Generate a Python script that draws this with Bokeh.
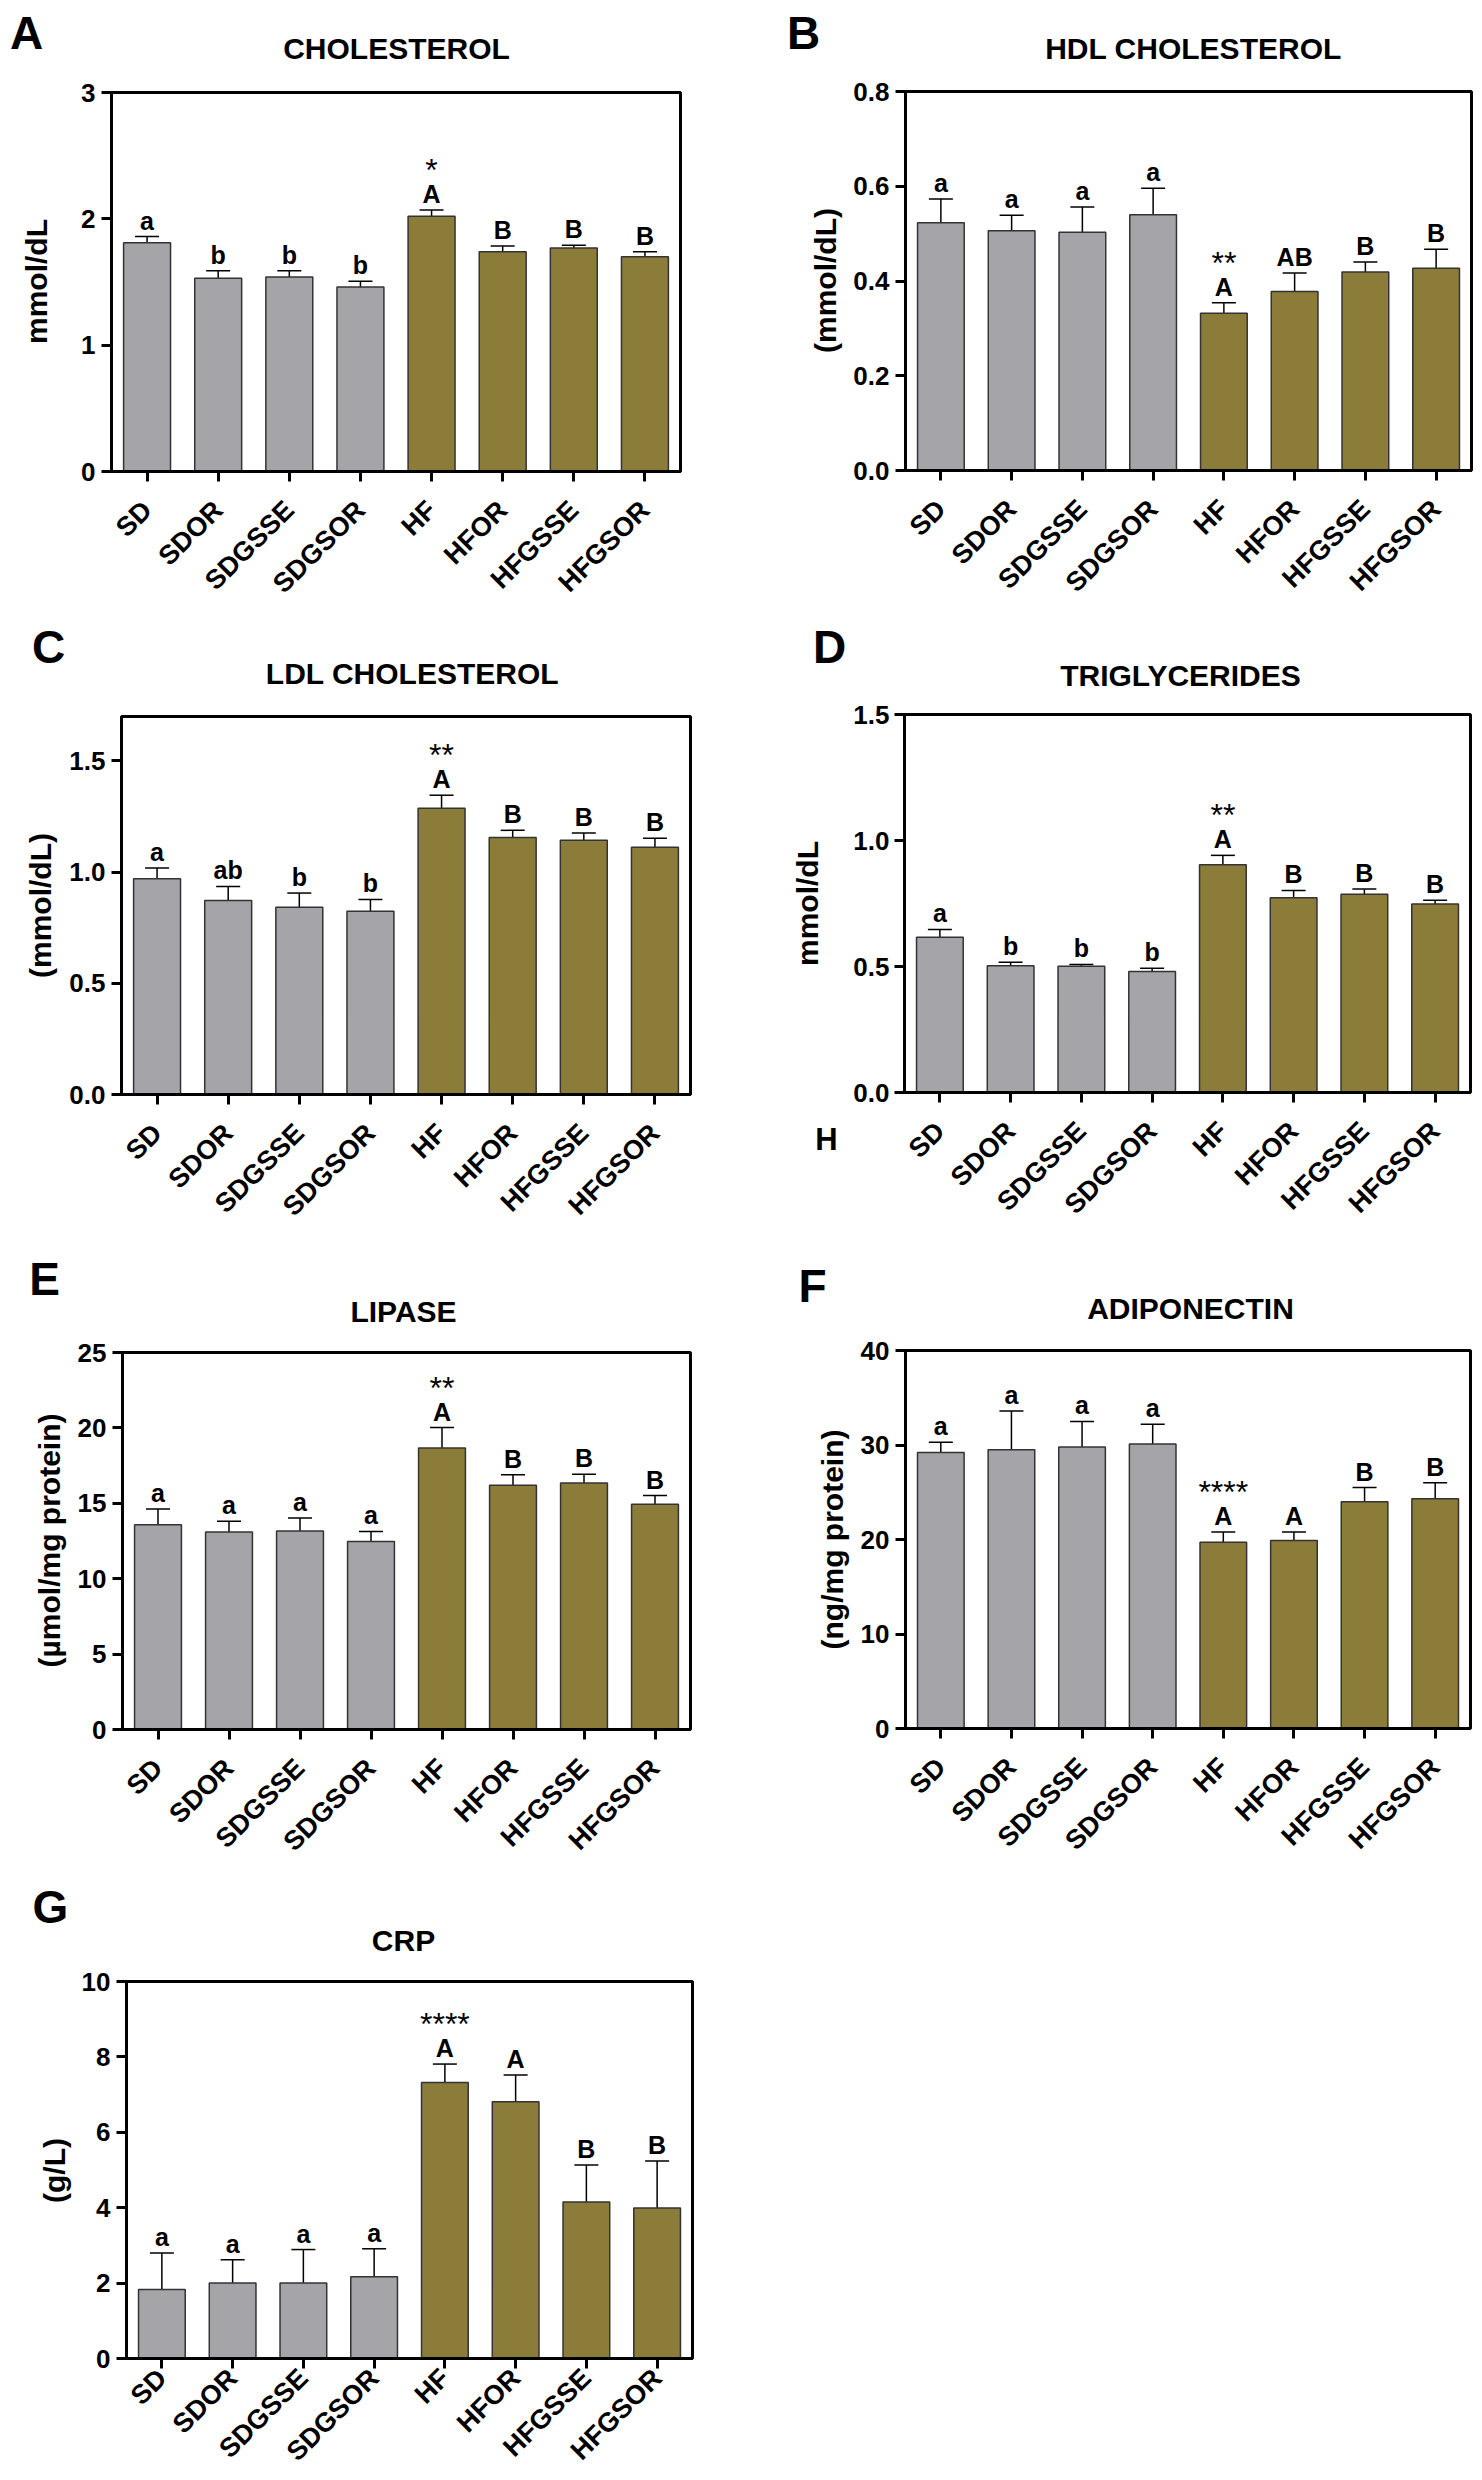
from math import pi
from bokeh.plotting import figure
from bokeh.models import (ColumnDataSource, FixedTicker, PrintfTickFormatter,
                          Whisker, TeeHead, Range1d)
from bokeh.layouts import column, row
from bokeh.embed import file_html
from bokeh.resources import INLINE
from bokeh.core.properties import value

# ---------------- data ----------------
groups = ["SD", "SDOR", "SDGSSE", "SDGSOR", "HF", "HFOR", "HFGSSE", "HFGSOR"]
diet = ["SD", "SD", "SD", "SD", "HF", "HF", "HF", "HF"]

chol_mean = [1.81, 1.53, 1.54, 1.46, 2.02, 1.74, 1.77, 1.70]
chol_sem = [0.05, 0.06, 0.05, 0.045, 0.05, 0.045, 0.02, 0.04]
chol_letters = ["a", "b", "b", "b", "A", "B", "B", "B"]
chol_stars = "*"

hdl_mean = [0.523, 0.506, 0.503, 0.540, 0.332, 0.378, 0.419, 0.427]
hdl_sem = [0.050, 0.033, 0.053, 0.056, 0.022, 0.039, 0.021, 0.040]
hdl_letters = ["a", "a", "a", "a", "A", "AB", "B", "B"]
hdl_stars = "**"

ldl_mean = [0.970, 0.873, 0.842, 0.824, 1.287, 1.156, 1.143, 1.112]
ldl_sem = [0.049, 0.063, 0.064, 0.053, 0.059, 0.032, 0.033, 0.041]
ldl_letters = ["a", "ab", "b", "b", "A", "B", "B", "B"]
ldl_stars = "**"

tg_mean = [0.616, 0.503, 0.501, 0.480, 0.904, 0.773, 0.787, 0.748]
tg_sem = [0.031, 0.014, 0.007, 0.013, 0.037, 0.029, 0.021, 0.015]
tg_letters = ["a", "b", "b", "b", "A", "B", "B", "B"]
tg_stars = "**"

lip_mean = [13.57, 13.10, 13.16, 12.47, 18.66, 16.19, 16.35, 14.94]
lip_sem = [1.05, 0.71, 0.86, 0.66, 1.36, 0.71, 0.58, 0.57]
lip_letters = ["a", "a", "a", "a", "A", "B", "B", "B"]
lip_stars = "**"

adi_mean = [29.2, 29.5, 29.8, 30.1, 19.7, 19.9, 24.0, 24.3]
adi_sem = [1.1, 4.1, 2.7, 2.1, 1.1, 0.9, 1.5, 1.7]
adi_letters = ["a", "a", "a", "a", "A", "A", "B", "B"]
adi_stars = "****"

crp_mean = [1.83, 2.00, 2.00, 2.17, 7.32, 6.81, 4.15, 3.99]
crp_sem = [0.97, 0.62, 0.89, 0.74, 0.49, 0.71, 0.98, 1.25]
crp_letters = ["a", "a", "a", "a", "A", "A", "B", "B"]
crp_stars = "****"

# ---------------- style ----------------
FONT = "Liberation Sans"
COLORS = {"SD": "#a4a4a9", "HF": "#8c7c3a"}


def text_strip(w, h):
    """A blank figure whose frame fills it, used to hold free text."""
    s = figure(width=w, height=h, x_range=Range1d(0, w), y_range=Range1d(h, 0),
               min_border=0, toolbar_location=None, output_backend="svg",
               x_axis_location=None, y_axis_location=None)
    s.outline_line_color = None
    s.background_fill_color = "white"
    s.border_fill_color = "white"
    for g in s.grid:
        g.visible = False
    return s


def bar_plot(means, sems, letters, stars, ymax, ticks, fmt, w, h, bl, br, bt, bb,
             xlab_standoff, ytick_standoff=6):
    p = figure(x_range=groups, y_range=Range1d(0, ymax), width=w, height=h,
               output_backend="svg", toolbar_location=None,
               min_border_left=bl, min_border_right=br,
               min_border_top=bt, min_border_bottom=bb)
    p.background_fill_color = "white"
    p.border_fill_color = "white"
    p.xgrid.visible = False
    p.ygrid.visible = False
    p.outline_line_color = "black"
    p.outline_line_width = 3
    p.outline_line_alpha = 1

    upper = [m + s for m, s in zip(means, sems)]
    src = ColumnDataSource(dict(group=groups, mean=means, upper=upper,
                                letter=letters,
                                color=[COLORS[d] for d in diet]))
    p.vbar(x="group", top="mean", width=0.66, source=src, fill_color="color",
           line_color="#333333", line_width=1.5)
    p.add_layout(Whisker(base="group", upper="upper", lower="mean", source=src,
                         line_color="black", line_width=1.5,
                         upper_head=TeeHead(size=24, line_color="black",
                                            line_width=1.5),
                         lower_head=None))
    p.text(x="group", y="upper", text="letter", source=src, text_align="center",
           text_baseline="bottom", y_offset=-2,
           text_font=value(FONT), text_font_style="bold",
           text_font_size="25px", text_color="black")
    hf = groups.index("HF")
    star_src = ColumnDataSource(dict(x=["HF"], y=[upper[hf]], t=[stars]))
    p.text(x="x", y="y", text="t", source=star_src, text_align="center",
           text_baseline="bottom", y_offset=-22,
           text_font=value(FONT), text_font_size="32px", text_color="black")

    for ax in (p.xaxis[0], p.yaxis[0]):
        ax.axis_line_width = 3
        ax.axis_line_color = "black"
        ax.major_tick_line_width = 3
        ax.major_tick_line_color = "black"
        ax.major_tick_in = 0
        ax.major_tick_out = 10
        ax.minor_tick_line_color = None
        ax.major_label_text_font = FONT
        ax.major_label_text_font_style = "bold"
        ax.major_label_text_color = "black"
    p.xaxis.major_label_text_font_size = "27px"
    p.xaxis.major_label_orientation = pi / 4
    p.xaxis.major_label_standoff = xlab_standoff
    p.yaxis.major_label_text_font_size = "26px"
    p.yaxis.major_label_standoff = ytick_standoff
    p.yaxis.ticker = FixedTicker(ticks=ticks)
    p.yaxis.formatter = PrintfTickFormatter(format=fmt)
    return p


def block(letter, title, ylabel, plot_args, W, H, ts, ls, bl, br, bt, bb,
          letter_xy, title_xy, ylabel_xy, xlab_standoff=24, ytick_standoff=6,
          extra=None):
    # top strip: panel letter + title
    top = text_strip(W, ts)
    top.text(x=[letter_xy[0]], y=[letter_xy[1]], text=[letter], text_align="center",
             text_baseline="middle", text_font=value(FONT),
             text_font_style="bold", text_font_size="46px", text_color="black")
    top.text(x=[title_xy[0]], y=[title_xy[1]], text=[title], text_align="center",
             text_baseline="middle", text_font=value(FONT),
             text_font_style="bold", text_font_size="30px", text_color="black")
    # left strip: y-axis title (+ stray text)
    left = text_strip(ls, H - ts)
    left.text(x=[ylabel_xy[0]], y=[ylabel_xy[1]], text=[ylabel], angle=pi / 2,
              text_align="center", text_baseline="middle", text_font=value(FONT),
              text_font_style="bold", text_font_size="30px", text_color="black")
    if extra is not None:
        left.text(x=[extra[1]], y=[extra[2]], text=[extra[0]], text_align="center",
                  text_baseline="middle", text_font=value(FONT),
                  text_font_style="bold", text_font_size="31px", text_color="black")
    p = bar_plot(*plot_args, W - ls, H - ts, bl, br, bt, bb, xlab_standoff,
                 ytick_standoff)
    # the strip is wrapped in a column so that its frame is not aligned with the plot's
    return column(top, row(column(left), p))


int_fmt = "%d"
dec_fmt = "%.1f"

# row 1: y 0..612
bA = block("A", "CHOLESTEROL", "mmol/dL",
           (chol_mean, chol_sem, chol_letters, chol_stars, 3, [0, 1, 2, 3], int_fmt),
           741, 612, 70, 56, 55, 61, 22, 141, (26, 32), (396, 48), (36, 211))
bB = block("B", "HDL CHOLESTEROL", "(mmol/dL)",
           (hdl_mean, hdl_sem, hdl_letters, hdl_stars, 0.8, [0, 0.2, 0.4, 0.6, 0.8], dec_fmt),
           741, 612, 70, 104, 60, 11, 21, 142, (62, 32), (452, 48), (84, 210))
# row 2: y 612..1235
bC = block("C", "LDL CHOLESTEROL", "(mmol/dL)",
           (ldl_mean, ldl_sem, ldl_letters, ldl_stars, 1.7, [0, 0.5, 1.0, 1.5], dec_fmt),
           741, 623, 84, 66, 54, 51, 20, 141, (48, 34), (412, 61), (40, 209))
bD = block("D", "TRIGLYCERIDES", "mmol/dL",
           (tg_mean, tg_sem, tg_letters, tg_stars, 1.5, [0, 0.5, 1.0, 1.5], dec_fmt),
           741, 623, 84, 109, 52, 12, 18, 143, (88, 34), (439, 63), (66, 207),
           ytick_standoff=5, extra=("H", 85, 443))
# row 3: y 1235..1870
bE = block("E", "LIPASE", "(µmol/mg protein)",
           (lip_mean, lip_sem, lip_letters, lip_stars, 25, [0, 5, 10, 15, 20, 25], int_fmt),
           741, 635, 95, 68, 54, 51, 22, 141, (44, 43), (403, 76), (49, 210))
bF = block("F", "ADIPONECTIN", "(ng/mg protein)",
           (adi_mean, adi_sem, adi_letters, adi_stars, 40, [0, 10, 20, 30, 40], int_fmt),
           741, 635, 95, 110, 54, 12, 20, 142, (71, 50), (449, 73), (91, 209))
# row 4: y 1870..2480
bG = block("G", "CRP", "(g/L)",
           (crp_mean, crp_sem, crp_letters, crp_stars, 10, [0, 2, 4, 6, 8, 10], int_fmt),
           741, 610, 90, 72, 54, 49, 21, 120, (50, 36), (403, 70), (54, 210),
           xlab_standoff=5)

layout = column(row(bA, bB), row(bC, bD), row(bE, bF), row(bG))
open("out.html", "w").write(file_html(layout, INLINE, title="Lipid profile"))
